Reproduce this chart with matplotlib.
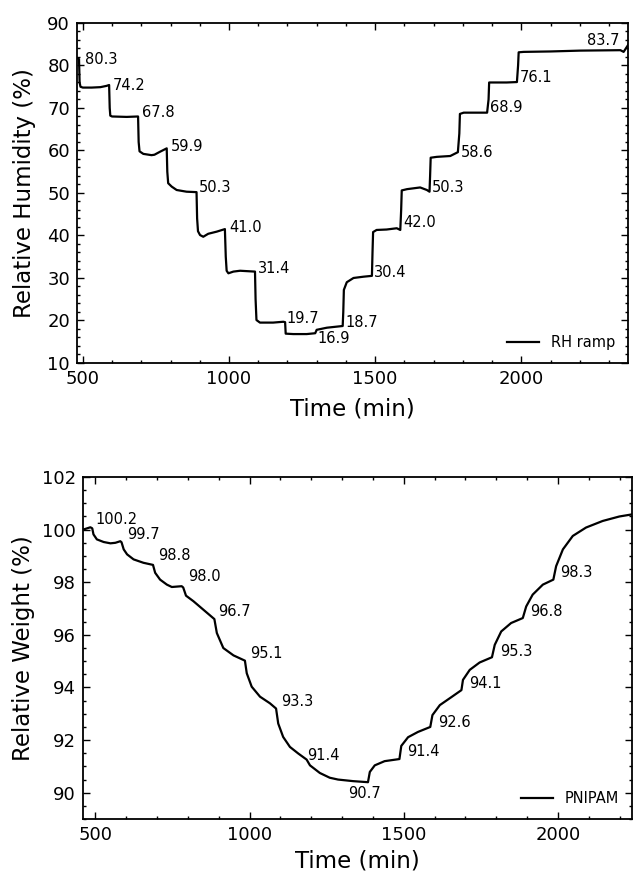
import matplotlib
matplotlib.use("Agg")
import matplotlib.pyplot as plt
from matplotlib.ticker import MultipleLocator

# RH ramp
rh_time = [482, 487, 489, 492, 500, 530, 560, 581, 590, 592, 594, 600, 650, 689,
           691, 694, 707, 735, 745, 764, 787, 789, 792, 804, 821, 855, 889, 891,
           894, 901, 912, 929, 958, 986, 989, 992, 998, 1015, 1038, 1089, 1091,
           1094, 1106, 1151, 1186, 1192, 1194, 1220, 1266, 1295, 1300, 1335, 1389,
           1391, 1393, 1403, 1426, 1460, 1489, 1491, 1493, 1505, 1539, 1574, 1586,
           1589, 1591, 1609, 1654, 1677, 1686, 1688, 1690, 1711, 1757, 1783, 1788,
           1790, 1803, 1883, 1888, 1890, 1950, 1985, 1989, 1991, 2008, 2100, 2202,
           2339, 2350, 2367]
rh_value = [81.7, 81.5, 76.0, 75.0, 74.8, 74.8, 74.9, 75.2, 75.4, 70.0, 68.2, 68.0,
            67.9, 68.0, 62.0, 59.8, 59.2, 58.9, 59.0, 59.7, 60.5, 55.0, 52.3, 51.5,
            50.7, 50.3, 50.2, 44.0, 41.0, 40.1, 39.7, 40.4, 40.9, 41.5, 35.0, 31.7,
            31.1, 31.5, 31.7, 31.5, 25.0, 20.1, 19.5, 19.5, 19.7, 19.6, 16.9, 16.8,
            16.8, 17.0, 17.8, 18.3, 18.7, 22.0, 27.2, 29.0, 30.0, 30.3, 30.5, 36.0,
            40.8, 41.3, 41.4, 41.7, 41.3, 46.0, 50.6, 50.9, 51.3, 50.7, 50.3, 54.0,
            58.3, 58.5, 58.7, 59.6, 64.0, 68.6, 68.9, 68.9, 72.0, 76.0, 76.0, 76.1,
            80.0, 83.1, 83.2, 83.3, 83.5, 83.6, 83.2, 85.0]

rh_labels = ["80.3", "74.2", "67.8", "59.9", "50.3", "41.0", "31.4", "19.7", "16.9",
             "18.7", "30.4", "42.0", "50.3", "58.6", "68.9", "76.1", "83.7"]
rh_label_t = [507, 604, 701, 801, 898, 1001, 1100, 1195, 1304, 1397, 1497, 1595,
              1694, 1793, 1894, 1994, 2225]
rh_label_v = [80.35, 74.2, 67.8, 59.8, 50.2, 40.9, 31.25, 19.5, 14.8, 18.4, 30.3,
              41.9, 50.3, 58.5, 69.1, 76.2, 84.8]

# PNIPAM relative weight
w_time = [460, 484, 490, 494, 505, 527, 549, 565, 581, 585, 592, 603, 624, 656, 687,
          694, 710, 732, 748, 780, 785, 794, 818, 850, 886, 894, 915, 948, 985, 991,
          1007, 1034, 1066, 1086, 1093, 1109, 1131, 1158, 1185, 1196, 1228, 1260,
          1287, 1336, 1384, 1390, 1406, 1438, 1486, 1492, 1514, 1546, 1586, 1593,
          1617, 1654, 1687, 1692, 1714, 1746, 1786, 1795, 1816, 1848, 1886, 1897,
          1918, 1951, 1985, 1994, 2016, 2048, 2091, 2145, 2199, 2240]
w_value = [100.0, 100.09, 100.05, 99.82, 99.63, 99.53, 99.48, 99.5, 99.56, 99.52,
           99.25, 99.06, 98.87, 98.74, 98.66, 98.36, 98.1, 97.91, 97.82, 97.85, 97.8,
           97.49, 97.28, 96.96, 96.6, 96.07, 95.5, 95.22, 95.02, 94.54, 94.03, 93.65,
           93.4, 93.2, 92.63, 92.12, 91.74, 91.49, 91.26, 91.04, 90.75, 90.57, 90.5,
           90.44, 90.4, 90.79, 91.04, 91.2, 91.28, 91.78, 92.11, 92.31, 92.5, 92.95,
           93.33, 93.63, 93.9, 94.29, 94.67, 94.95, 95.15, 95.62, 96.13, 96.45,
           96.64, 97.08, 97.53, 97.91, 98.1, 98.61, 99.25, 99.76, 100.08, 100.33,
           100.5, 100.58]

w_labels = ["100.2", "99.7", "98.8", "98.0", "96.7", "95.1", "93.3", "91.4", "90.7",
            "91.4", "92.6", "94.1", "95.3", "96.8", "98.3"]
w_label_t = [500, 602, 702, 802, 899, 1002, 1102, 1187, 1320, 1511, 1613, 1711,
             1811, 1911, 2008]
w_label_v = [100.2, 99.65, 98.84, 98.04, 96.7, 95.11, 93.29, 91.25, 89.8, 91.39,
             92.5, 93.99, 95.21, 96.7, 98.2]

plt.rcParams['font.family'] = ['DejaVu Sans']

fig = plt.figure(figsize=(6.33, 8.74), dpi=100)
ax1 = fig.add_axes([0.1216, 0.5847, 0.8705, 0.389])
ax2 = fig.add_axes([0.1311, 0.0629, 0.8673, 0.3913])


def style_axes(ax):
    ax.tick_params(which='both', direction='in', top=True, right=True,
                   labelsize=13, pad=5, width=1)
    ax.tick_params(which='major', length=5)
    ax.tick_params(which='minor', length=2.5)
    for s in ax.spines.values():
        s.set_linewidth(1.3)
    ax.xaxis.set_minor_locator(MultipleLocator(100))
    ax.xaxis.set_major_locator(MultipleLocator(500))


ax1.plot(rh_time, rh_value, color='black', lw=1.6, label='RH ramp')
for txt, t, v in zip(rh_labels, rh_label_t, rh_label_v):
    ax1.text(t, v, txt, fontsize=10.5)
ax1.set_xlim(480, 2365)
ax1.set_ylim(10, 90)
style_axes(ax1)
ax1.yaxis.set_major_locator(MultipleLocator(10))
ax1.yaxis.set_minor_locator(MultipleLocator(2))
ax1.set_xlabel('Time (min)', fontsize=16.5, labelpad=7)
ax1.set_ylabel('Relative Humidity (%)', fontsize=16.5, labelpad=8)
ax1.legend(loc='lower right', frameon=False, fontsize=10.5, handlelength=2.2)

ax2.plot(w_time, w_value, color='black', lw=1.6, label='PNIPAM')
for txt, t, v in zip(w_labels, w_label_t, w_label_v):
    ax2.text(t, v, txt, fontsize=10.5)
ax2.set_xlim(460, 2240)
ax2.set_ylim(89, 102)
style_axes(ax2)
ax2.yaxis.set_major_locator(MultipleLocator(2))
ax2.yaxis.set_minor_locator(MultipleLocator(0.5))
ax2.set_xlabel('Time (min)', fontsize=16.5, labelpad=4)
ax2.set_ylabel('Relative Weight (%)', fontsize=16.5, labelpad=5)
ax2.legend(loc='lower right', frameon=False, fontsize=10.5, handlelength=2.2)

fig.savefig('out.png', dpi=100)
